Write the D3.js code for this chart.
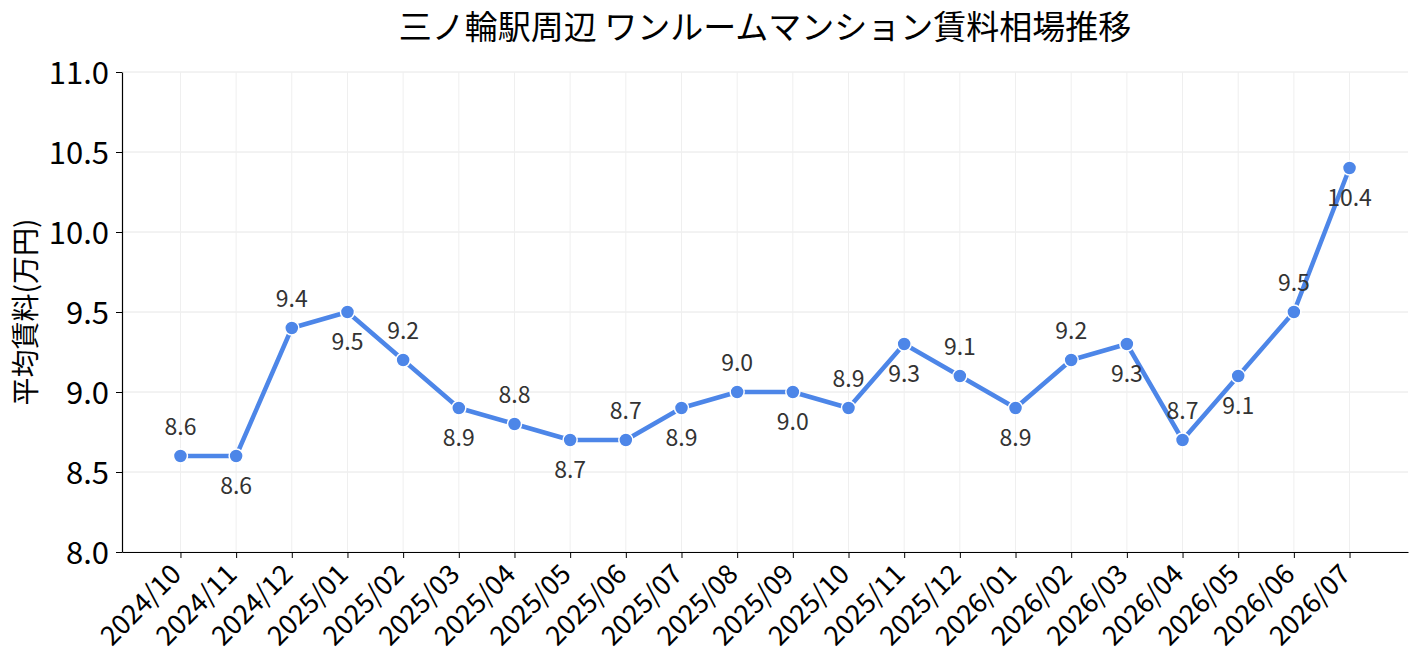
<!DOCTYPE html>
<html>
<head>
<meta charset="utf-8">
<script src="https://cdn.jsdelivr.net/npm/d3@7"></script>
<style>
  html, body { margin: 0; padding: 0; background: #fff; }
  svg text { font-family: "Noto Sans CJK JP", "Noto Sans", sans-serif; }
</style>
</head>
<body>
<div id="chart"></div>
<script>
// 月ラベル
const months = ["2024/10","2024/11","2024/12","2025/01","2025/02","2025/03","2025/04","2025/05",
  "2025/06","2025/07","2025/08","2025/09","2025/10","2025/11","2025/12","2026/01","2026/02",
  "2026/03","2026/04","2026/05","2026/06","2026/07"];
// 平均賃料(万円)
const rents = [8.6, 8.6, 9.4, 9.5, 9.2, 8.9, 8.8, 8.7, 8.7, 8.9, 9.0, 9.0, 8.9, 9.3, 9.1, 8.9,
  9.2, 9.3, 8.7, 9.1, 9.5, 10.4];
const yTicks = [8.0, 8.5, 9.0, 9.5, 10.0, 10.5, 11.0];

const W = 1418, H = 671;
const margin = { top: 72, right: 10, bottom: 119, left: 122 };
const iw = W - margin.left - margin.right;
const ih = H - margin.top - margin.bottom;

const svg = d3.select("#chart").append("svg")
  .attr("width", W).attr("height", H);

const g = svg.append("g")
  .attr("transform", `translate(${margin.left},${margin.top})`);

const x = d3.scalePoint().domain(months).range([0, iw]).padding(1.05);
const y = d3.scaleLinear().domain([8, 11]).range([ih, 0]);

// グリッド
g.append("g").selectAll("line").data(yTicks).join("line")
  .attr("x1", 0).attr("x2", iw)
  .attr("y1", d => y(d)).attr("y2", d => y(d))
  .attr("stroke", "#e6e6e6").attr("stroke-width", 1);
g.append("g").selectAll("line").data(months).join("line")
  .attr("x1", d => x(d)).attr("x2", d => x(d))
  .attr("y1", 0).attr("y2", ih)
  .attr("stroke", "#efefef").attr("stroke-width", 1);

// 軸
const yAxis = g.append("g")
  .call(d3.axisLeft(y).tickValues(yTicks).tickFormat(d3.format(".1f")).tickSize(6).tickSizeOuter(0));
yAxis.select(".domain").attr("stroke", "#000").attr("stroke-width", 1.2);
yAxis.selectAll(".tick line").attr("stroke", "#000");
yAxis.selectAll(".tick text")
  .attr("x", -13).attr("dy", "0.36em")
  .style("font-size", "31px").attr("fill", "#000");

const xAxis = g.append("g")
  .attr("transform", `translate(0,${ih})`)
  .call(d3.axisBottom(x).tickSize(6).tickSizeOuter(0));
xAxis.select(".domain").attr("stroke", "#000").attr("stroke-width", 1.2);
xAxis.selectAll(".tick line").attr("stroke", "#000");
xAxis.selectAll(".tick text")
  .attr("y", 0).attr("dy", 0)
  .attr("text-anchor", "end")
  .attr("transform", "translate(2,24) rotate(-45)")
  .style("font-size", "27px").attr("fill", "#000");

// 折れ線
const pts = months.map((m, i) => ({ m, v: rents[i], i }));
g.append("path").datum(pts)
  .attr("fill", "none")
  .attr("stroke", "#4d86e8")
  .attr("stroke-width", 4.5)
  .attr("stroke-linejoin", "round")
  .attr("d", d3.line().x(d => x(d.m)).y(d => y(d.v)));

g.append("g").selectAll("circle").data(pts).join("circle")
  .attr("cx", d => x(d.m)).attr("cy", d => y(d.v))
  .attr("r", 7)
  .attr("fill", "#4d86e8")
  .attr("stroke", "#fff").attr("stroke-width", 1.5);

// 値ラベル（交互に上下）
g.append("g").selectAll("text").data(pts).join("text")
  .attr("x", d => x(d.m))
  .attr("y", d => y(d.v) + (d.i % 2 === 0 ? -29 : 30))
  .attr("dy", "0.36em")
  .attr("text-anchor", "middle")
  .style("font-size", "23px")
  .attr("fill", "#333")
  .text(d => d3.format(".1f")(d.v));

// タイトル
svg.append("text")
  .attr("x", margin.left + iw / 2).attr("y", 27)
  .attr("dy", "0.36em")
  .attr("text-anchor", "middle")
  .style("font-size", "33px").attr("fill", "#000")
  .text("三ノ輪駅周辺 ワンルームマンション賃料相場推移");

// Y軸ラベル
svg.append("text")
  .attr("transform", `translate(26,${margin.top + ih / 2}) rotate(-90)`)
  .attr("dy", "0.36em")
  .attr("text-anchor", "middle")
  .style("font-size", "28px").attr("fill", "#000")
  .text("平均賃料(万円)");
</script>
</body>
</html>
